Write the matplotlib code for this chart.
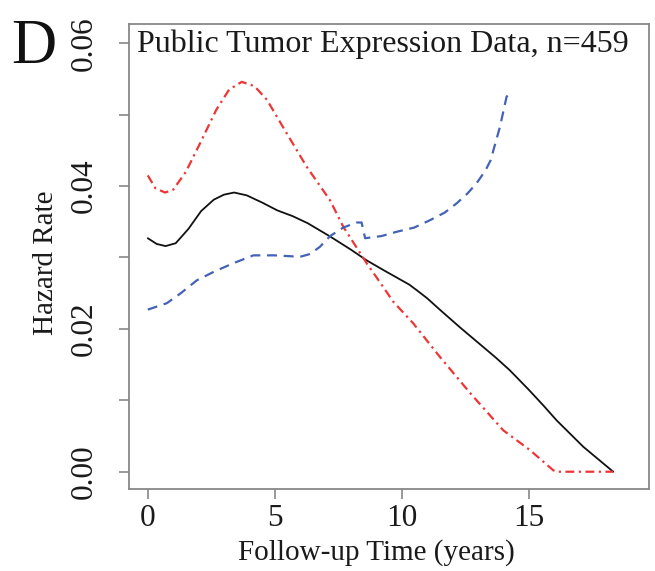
import matplotlib
matplotlib.use("Agg")
import matplotlib.pyplot as plt

plt.rcParams['font.family'] = ['Liberation Serif', 'DejaVu Serif']

# Data
black_x = [0, 0.35, 0.7, 1.1, 1.6, 2.1, 2.6, 3.0, 3.4, 3.9, 4.5, 5.1, 5.7, 6.3, 7.2, 8.0, 8.62,
           9.3, 9.9, 10.3, 10.6, 11.0, 11.5, 12.3, 13.2, 13.7, 14.26, 15.0, 15.6, 16.1, 17.15, 18.33]
black_y = [0.0327, 0.0319, 0.0316, 0.0320, 0.0340, 0.0365, 0.0381, 0.0388, 0.0391, 0.0387, 0.0377,
           0.0366, 0.0358, 0.0348, 0.0329, 0.0311, 0.0296, 0.0282, 0.0270, 0.0262, 0.0254, 0.0243,
           0.0227, 0.0202, 0.0175, 0.0160, 0.0142, 0.0115, 0.0092, 0.0072, 0.0035, 0.0]

red_x = [0, 0.3, 0.68, 1.0, 1.5, 2.06, 2.7, 3.2, 3.7, 4.2, 4.69, 5.47, 6.26, 7.18, 7.7, 8.62, 9.15,
         9.67, 10.45, 11.5, 12.7, 14.0, 15.06, 15.97, 16.1, 18.33]
red_y = [0.0415, 0.0397, 0.0391, 0.0395, 0.0420, 0.0460, 0.0507, 0.0535, 0.0546, 0.0540, 0.0521,
         0.0474, 0.0427, 0.0380, 0.0343, 0.0292, 0.0265, 0.0238, 0.0208, 0.0161, 0.0110, 0.0058,
         0.0030, 0.0002, 0.0, 0.0]

blue_x = [0, 0.75, 1.3, 1.93, 2.6, 3.37, 4.16, 5.0, 6.0, 6.4, 6.78, 7.18, 7.7, 8.23, 8.42, 8.56,
          9.2, 9.8, 10.5, 11.1, 11.7, 12.17, 12.6, 12.95, 13.3, 13.5, 13.87, 14.13, 14.2, 14.35]
blue_y = [0.0227, 0.0236, 0.0250, 0.0268, 0.0280, 0.0292, 0.0303, 0.0303, 0.0301, 0.0305, 0.0315,
          0.0330, 0.0342, 0.0349, 0.0349, 0.0327, 0.0330, 0.0336, 0.0342, 0.0352, 0.0363, 0.0376,
          0.0390, 0.0404, 0.0422, 0.0436, 0.0483, 0.0525, 0.0528, 0.0523]

x_ticks = [0, 5, 10, 15]
y_ticks = [0.00, 0.01, 0.02, 0.03, 0.04, 0.05, 0.06]
y_labels = ['0.00', '', '0.02', '', '0.04', '', '0.06']

title = "Public Tumor Expression Data, n=459"

fig = plt.figure(figsize=(6.55, 5.71), dpi=100)
ax = fig.add_axes([129/655, 82/571, 520/655, 465/571])

ax.plot(black_x, black_y, color='#111111', lw=1.3, solid_capstyle='round')
ax.plot(red_x, red_y, color='#EE3535', lw=1.6, dashes=(4, 2, 1, 2))
ax.plot(blue_x, blue_y, color='#4463B8', lw=1.6, dashes=(4.5, 3))

ax.set_xlim(-0.74, 19.74)
ax.set_ylim(-0.00242, 0.0627)
ax.set_xticks(x_ticks)
ax.set_xticklabels([str(v) for v in x_ticks])
ax.set_yticks(y_ticks)
ax.set_yticklabels(y_labels, rotation=90, va='center')

for s in ax.spines.values():
    s.set_color('#888888')
    s.set_linewidth(1.3)

ax.tick_params(axis='both', direction='out', length=7, width=1.2, color='#888888',
               labelsize=22.5, labelcolor='#1a1a1a')
ax.tick_params(axis='x', pad=4)
ax.tick_params(axis='y', pad=15)

ax.set_xlabel("Follow-up Time (years)", fontsize=21, color='#1a1a1a')
ax.xaxis.set_label_coords(0.476, -0.108)
ax.set_ylabel("Hazard Rate", fontsize=21, color='#1a1a1a')
ax.yaxis.set_label_coords(-0.135, 0.487)

fig.text(137/655, (571-52)/571, title, fontsize=23, color='#1a1a1a', va='baseline', ha='left')
fig.text(11/655, (571-63)/571, "D", fontsize=45, color='#111111', va='baseline', ha='left')

fig.savefig("out.png", dpi=100)
